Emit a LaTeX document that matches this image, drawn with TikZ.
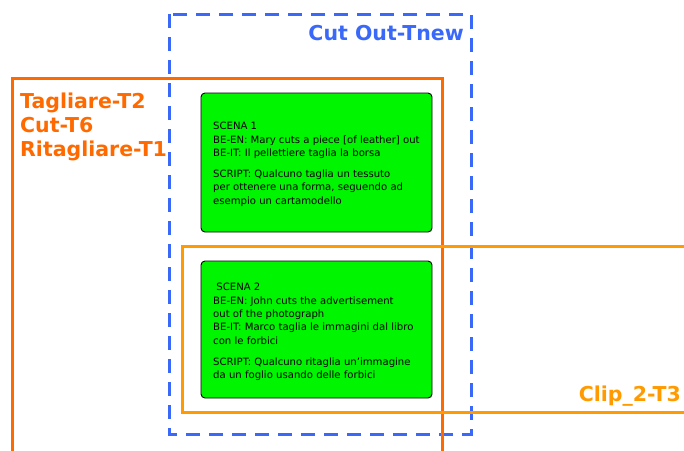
\documentclass[tikz,border=0pt]{standalone}
\usepackage{fontspec}
\setmainfont{DejaVu Sans}
\definecolor{cutblue}{HTML}{3A68F8}
\definecolor{darkorange}{HTML}{FF6A00}
\definecolor{cliporange}{HTML}{FF9A00}
\definecolor{scenegreen}{HTML}{00F500}
\begin{document}
\begin{tikzpicture}[x=1pt,y=-1pt,
  frame/.style={line width=3pt},
  scenebox/.style={draw=black,fill=scenegreen,rounded corners=4pt,line width=0.9pt},
  scenetext/.style={inner sep=0pt,align=left,anchor=north west,font=\fontsize{10.1}{13.4}\selectfont},
  biglabel/.style={inner sep=0pt,font=\fontsize{20.5}{24}\selectfont\bfseries}]
\useasboundingbox (0,0) rectangle (684,450);
% frames
\draw[frame,cutblue,dash pattern=on 14pt off 9pt] (169,14) rectangle (471,434);
\draw[frame,darkorange] (12,452) -- (12,78) -- (442,78) -- (442,452);
\draw[frame,cliporange] (686,246) -- (182,246) -- (182,412) -- (686,412);
% scene boxes
\draw[scenebox] (201,93) rectangle (432,232);
\draw[scenebox] (201,261) rectangle (432,398);
\node[scenetext] (s1) at (213,122) {SCENA 1\\BE-EN: Mary cuts a piece [of leather] out\\BE-IT: Il pellettiere taglia la borsa\\[7.5pt]SCRIPT: Qualcuno taglia un tessuto\\per ottenere una forma, seguendo ad\\esempio un cartamodello};
\node[scenetext] (s2) at (213,283) {\ SCENA 2\\BE-EN: John cuts the advertisement\\out of the photograph\\BE-IT: Marco taglia le immagini dal libro\\con le forbici\\[7.5pt]SCRIPT: Qualcuno ritaglia un'immagine\\da un foglio usando delle forbici};
% labels
\node[biglabel,text=cutblue,anchor=east] (lblue) at (464,33) {Cut Out-Tnew};
\node[biglabel,text=darkorange,anchor=north west,align=left] (lorange) at (20,92.5) {Tagliare-T2\\Cut-T6\\Ritagliare-T1};
\node[biglabel,text=cliporange,anchor=east] (lclip) at (681,396) {Clip\_2-T3};
\end{tikzpicture}
\end{document}
